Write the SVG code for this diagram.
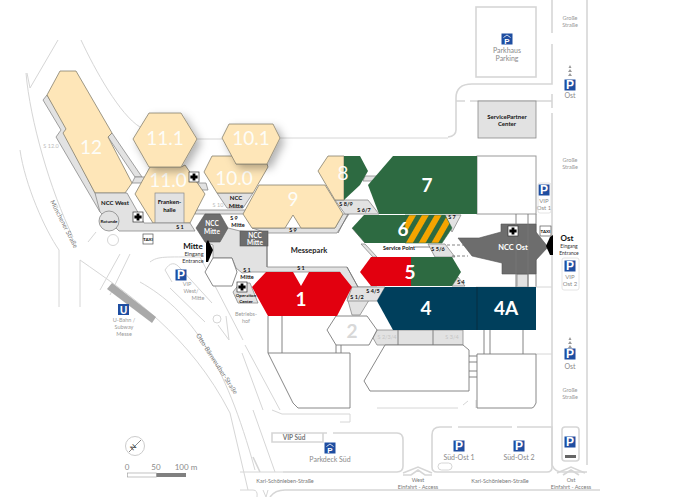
<svg xmlns="http://www.w3.org/2000/svg" width="677" height="497" viewBox="0 0 677 497">
<style>
text{font-family:Lato,"Open Sans","Liberation Sans",sans-serif;text-anchor:middle}
.r{fill:none;stroke:#d6d6d6;stroke-width:1}
.rb{fill:none;stroke:#d6d6d6;stroke-width:1.6}
.o{fill:#fff;stroke:#7a7a7a;stroke-width:.9}
.ln{fill:none;stroke:#777;stroke-width:.9}
.g{fill:#e2e2e2;stroke:#8a8a8a;stroke-width:.8}
.t{fill:#fee6b8;stroke:#85806f;stroke-width:.8}
.gr{fill:#2d6a41}.rd{fill:#e2000f}.bl{fill:#003f5c}.dk{fill:#6d6d6d;stroke:#555;stroke-width:.6}
.hl{fill:#fdfdf8;font-size:19px;font-weight:400}
.h{fill:#fff;font-size:19px;font-weight:700}
.s{fill:#111;font-size:5.500px;font-weight:700}
.s2{fill:#111;font-size:6px;font-weight:700}
.w{fill:#fff;font-size:6.500px;font-weight:700}
.l{fill:#999;font-size:5.500px}
.l2{fill:#8a8a8a;font-size:8px}
.pb{fill:#1f4ea1}.pt{fill:#fff;font-size:12px;font-weight:700;font-family:"Liberation Sans",sans-serif}
</style>
<defs>
<pattern id="hatch" width="11" height="11" patternUnits="userSpaceOnUse" patternTransform="rotate(30)">
<rect width="11" height="11" fill="#2d6a41"/><rect width="6" height="11" fill="#f5a400"/>
</pattern>
<filter id="sh" x="-30%" y="-30%" width="170%" height="170%"><feDropShadow dx="4" dy="4" stdDeviation="4" flood-color="#000" flood-opacity=".3"/></filter>
<g id="pk"><rect x="-5.5" y="-5.5" width="11" height="11" class="pb"/><text y="4.3" class="pt">P</text></g>
<g id="pd"><rect x="-5.5" y="-5.5" width="11" height="11" class="pb"/><path d="M-3.500-1.500L0-4L3.500-1.500" fill="none" stroke="#fff" stroke-width=".8"/><text y="4.800" class="pt" style="font-size:8px">P</text></g>
<g id="plus"><rect x="-5" y="-5" width="10" height="10" fill="#fff" stroke="#333" stroke-width=".7"/><path d="M-1.4-3.6h2.8v2.2h2.2v2.8h-2.2v2.2h-2.8v-2.2h-2.2v-2.8h2.2z" fill="#000"/></g>
</defs>

<g id="connectors">
<path class="r" d="M27 73L30 88L58 40M81 40C95 70 120 115 140 127L197 139"/>
<path class="r" d="M26 73C30 120 50 190 73 237M20 150C25 185 45 230 59 250V307M80 307V260C130 295 190 335 230 413L248 490M140 282C190 310 225 360 255 470"/>
<path class="r" d="M120 254L100 290M130 254L110 295M150 262C158 256 165 257 200 257L243 340M165 270C170 262 175 262 180 268L212 303M165 270L172 282M170 288L205 322M245 345L280 410M242 353L263 410"/>
<circle class="r" cx="113" cy="240" r="5.5"/><circle class="r" cx="217" cy="319" r="4"/>
<path class="r" d="M218 325L229 340L226 316M88 242L96 232"/>
<path class="rb" d="M587 0V465M552 0V33M552 44V84H472Q456 84 456 98V130Q456 136 448 137M552 94V108M552 113V465Q555 472 562 472H587M456 101H465M470 101H552"/>
<path class="r" d="M197 139H222M280 138H448M240 472H283M253 410L275 472M272 410L282 414H350V422H340"/>
<path class="rb" d="M283 472H397Q403 472 403 466V440Q403 433 397 433H333M327 433H323V442H272V433H323M253 457L260 472"/>
<path class="rb" d="M432 467V435Q432 427 440 427H452M458 427H512M517 427H552V467Q552 472 547 472H437Q432 472 432 467"/>
<rect class="rb" x="562" y="427" width="17" height="34" rx="3"/>
<rect class="r" x="438" y="463" width="14" height="7" rx="3.500"/>
<path class="rb" d="M403 473L418 467L432 473M403 475H411L418 470L425 475H432M557 473L571 467L585 473M563 475L571 470L579 475"/>
<path class="rb" d="M270 497Q275 490 285 490H600"/><path class="r" d="M240 490H253Q258 490 257 497M263 490L266 497M268 490L266 497"/>
<rect class="rb" x="476" y="7" width="60" height="70"/>
<path class="r" d="M536 354H552M377 408H458" stroke-width="1.200"/>
<path class="r" d="M463 405L468 401M476 400V408"/>
</g>

<g id="site-base">
<path class="g" d="M47 95L43 100L61 130L56 137L100 212H105L66 137L68 129Z"/>
<path class="g" d="M108 137L112 133L142 177H135Z"/>
<path class="g" d="M135 177H148L143 183H132Z"/>
<path class="g" d="M213 245L205 242L228 228L240 231L267 233V267H347L358 287H377L360 315H352L340 272H252L242 273L236 268L232 258H213Z"/>
<path class="g" d="M195 210H247V214H195Z"/>
<path class="g" d="M185 183L206 183L208 190H190Z"/>
<path class="g" d="M252 228H335L343 214H349L337 233H267Z"/>
<path class="g" d="M365 176H382L378 181H363Z"/>
<path class="g" d="M335 200H368L379 214H345Z"/>
<path class="g" d="M361 244H365L377 257H373Z"/>
<path class="g" d="M428 244H445L455 257H435Z"/>
<path class="g" d="M452 286L458 277L465 286Z"/>
<path class="g" d="M445 215H461L452 232Z"/>
<path class="g" d="M360 287H385L377 301H347L352 287Z"/>
<path class="g" d="M233 292L240 283H250L258 303H238Z"/>
<path class="g" d="M517 274H528V287H517Z"/>
<rect class="g" x="478" y="101" width="58" height="37" stroke-width="1.100"/>
<path class="g" d="M217 193H253L243 208H227Z"/>
<path class="ln" d="M267 246V267M347 267L358 287M348 214L338 233M352 228L365 243"/>
<path class="g" d="M377 330H463V345H377L373 338Z"/>
<path class="ln" d="M398 330V345M433 330V345M268 316V353M282 316V353M336 345V353M341 345V353M484 330V354M490 330V354M523 330V354M469 356H477M469 362H477M469 371H477M469 377H477M536 214V287"/>
<path class="o" d="M268 353H350V408H298L293 403Z"/>
<path class="o" d="M385 345L364 381L370 391H469V350L463 345Z"/>
<path class="o" d="M477 354H536V403Q534 408 532 408H477Z"/>
<path class="o" d="M327 330L336 316H367L377 330L369 345H336Z"/>
<path class="o" d="M205 272L213 258H232L237 272L232 286H213Z"/>
<path class="ln" d="M447 245H468M452 256H468" stroke-dasharray="3 2"/>
<path class="ln" d="M415 247H430" stroke-width=".6"/>
<rect x="477" y="156" width="59" height="58" fill="#fff" stroke="#9a9a9a"/>
<path d="M476 287H552" class="r"/>
</g>

<g id="hall-12"><path class="t" d="M60 71H76L112 133L108 137L132 183L125 193H95L63 133L66 129L47 95Z"/><text x="91" y="154" class="hl">12</text></g>
<g id="hall-11-0"><path class="t" d="M135 194L150 167H181L185 165L205 194L190 223H153Z"/><rect x="155" y="193" width="29" height="30" fill="#e2e2e2" stroke="#888" stroke-width=".7"/><text x="168" y="187" class="hl">11.0</text><text x="169.500" y="204" class="s2">Franken-</text><text x="169.500" y="212" class="s2">halle</text></g>
<g id="hall-10-0"><path class="t" d="M204 172L212 156H236V164H267L268 167L253 193H217Z"/><text x="234" y="185" class="hl">10.0</text></g>
<g id="hall-11-1"><path class="t" filter="url(#sh)" d="M133 139L149 113H181L197 139L181 167H149Z"/><text x="165" y="145" class="hl">11.1</text></g>
<g id="hall-10-1"><path class="t" filter="url(#sh)" d="M222 138L229 124H273L280 138L267 164H236Z"/><text x="251" y="145" class="hl">10.1</text></g>
<g id="hall-9"><path class="t" d="M243 214L259 185H325L343 214L335 228H301L293 215L285 228H252Z"/><text x="293" y="206" class="hl">9</text></g>
<g id="hall-8"><path class="t" d="M318 171L328 156H344V200H335Z"/><path class="gr" d="M344 156H360L368 171L360 185L344 200Z"/><text x="343" y="180" class="hl">8</text></g>
<g id="hall-7"><path class="gr" d="M368 185L393 156H477V214H379Z"/><text x="427" y="192" class="h">7</text></g>
<g id="hall-6"><path class="gr" d="M352 228L364 215H405V243H365Z"/><path fill="url(#hatch)" stroke="#2d6a41" stroke-width=".6" d="M405 215H445L452 228L442 243H405Z"/><text x="403" y="236" class="h">6</text><text x="399" y="250" class="s">Service Point</text><text x="438" y="251" class="s">S 5/6</text></g>
<g id="hall-5"><path class="rd" d="M360 272L371 257H411V286H371Z"/><path class="gr" d="M411 257H452L461 272L452 286H411Z"/><text x="410" y="279" class="h">5</text></g>
<g id="hall-4"><path class="bl" d="M377 301L385 287H477V330H393Z"/><text x="426" y="315" class="h">4</text></g>
<g id="hall-4a"><rect class="bl" x="477" y="287" width="59" height="43"/><path d="M477 287V330" stroke="#0b2431" stroke-width=".6"/><text x="506" y="315" class="h">4A</text></g>
<g id="hall-1"><path class="rd" d="M252 287L266 272H293L301 286L309 272H340L352 287L337 316H268Z"/><text x="301" y="306" class="h">1</text></g>
<g id="hall-2"><text x="352" y="338" class="hl" style="fill:#d8d8d8;font-size:19px;font-weight:700">2</text></g>

<g id="ncc-west"><path class="g" d="M95 193H127L144 223H190L195 231H119L100 212Z"/><text x="115" y="205" class="s2">NCC West</text></g>
<g id="rotunda"><circle cx="109" cy="221" r="10" fill="#e2e2e2" stroke="#888" stroke-width=".8"/><text x="109" y="223" class="s" style="font-size:4.500px">Rotunde</text></g>
<g id="ncc-mitte-1"><text x="236" y="200" class="s2">NCC</text><text x="236" y="207.500" class="s2">Mitte</text></g>
<g id="ncc-mitte-2"><path class="dk" d="M196 228L205 214H220L228 228L220 242H205Z"/><text x="212" y="226" class="w">NCC</text><text x="212" y="234" class="w">Mitte</text></g>
<g id="ncc-mitte-3"><rect class="dk" x="240" y="231" width="28" height="15"/><text x="255" y="237.500" class="w">NCC</text><text x="255" y="245" class="w">Mitte</text></g>
<g id="ncc-ost"><path class="dk" d="M458 238H479L501 232V224H536V232L548 247L536 260V274H502V263L472 256Z"/><path class="ln" d="M516 214V287M528 214V287"/><text x="513" y="250" class="w" style="font-size:7.500px">NCC Ost</text></g>

<g id="first-aid"><use href="#plus" x="194" y="177"/><use href="#plus" x="138" y="217"/><use href="#plus" x="242" y="287"/><use href="#plus" x="513" y="231"/></g>
<g id="taxi"><rect x="143" y="234" width="10" height="10" fill="#fff" stroke="#555" stroke-width=".7"/><text x="148" y="241" class="s" style="font-size:4.500px">TAXI</text><rect x="540" y="226" width="11" height="10" fill="#fff" stroke="#555" stroke-width=".7"/><text x="545.500" y="233" class="s" style="font-size:4.500px">TAXI</text></g>
<g id="entrances"><path d="M206 243L208 240L213 250L208 262L206 262Z" fill="#000"/><path d="M546 246L550 237L553 235V255L550 255Z" fill="#000"/>
<text x="193" y="249" style="font-size:8px;font-weight:700;fill:#111">Mitte</text><text x="194" y="256" class="l" style="fill:#333">Eingang</text><text x="193" y="263" class="l" style="fill:#333">Entrance</text>
<text x="567" y="241" style="font-size:8px;font-weight:700;fill:#111">Ost</text><text x="569" y="248" class="l" style="fill:#333;font-size:5px">Eingang</text><text x="569" y="254.500" class="l" style="fill:#333;font-size:5px">Entrance</text></g>

<g id="labels">
<text x="51" y="148" class="l" style="fill:#bbb">S 12.0</text>
<text x="218" y="207" class="l" style="fill:#bbb">S 10</text>
<text x="180" y="229" class="s">S 1</text>
<text x="234" y="219.500" class="s">S 9</text><text x="238" y="226.500" class="s">Mitte</text>
<text x="293" y="232" class="s">S 9</text><text x="346" y="206" class="s">S 8/9</text><text x="364" y="212" class="s">S 6/7</text>
<text x="452" y="219" class="s">S 7</text><text x="461" y="284" class="s">S 4</text><text x="373" y="293" class="s">S 4/5</text><text x="357" y="298.500" class="s">S 1/2</text>
<text x="301" y="270" class="s">S 1</text><text x="247" y="272" class="s">S 1</text><text x="247" y="279" class="s">Mitte</text>
<text x="246" y="297" class="s" style="font-size:4.500px">Operation</text><text x="246" y="302.500" class="s" style="font-size:4.500px">Center</text>
<text x="309" y="253" style="font-size:7.500px;font-weight:700;fill:#222">Messepark</text>
<text x="387" y="339" class="l" style="fill:#c4c4c4">S 2/3/4</text><text x="452" y="339" class="l" style="fill:#c4c4c4">S 3/4</text>
<text x="246" y="316" class="l">Betriebs-</text><text x="246" y="323" class="l">hof</text>
<text x="507" y="119" class="s2">ServicePartner</text><text x="507" y="126" class="s2">Center</text>
<text x="507" y="53" class="l2" style="font-size:7px">Parkhaus</text><text x="507" y="61" class="l2" style="font-size:7px">Parking</text>
<text x="570" y="20" class="l">Große</text><text x="570" y="27" class="l">Straße</text>
<text x="570" y="162" class="l">Große</text><text x="570" y="169" class="l">Straße</text>
<text x="570" y="392" class="l">Große</text><text x="570" y="399" class="l">Straße</text>
<text x="570" y="98" class="l2" style="font-size:7px">Ost</text><text x="570" y="369" class="l2" style="font-size:7px">Ost</text>
<text x="544" y="203" class="l2" style="font-size:6px">VIP</text><text x="544" y="210" class="l2" style="font-size:6px">Ost 1</text>
<text x="570" y="279" class="l2" style="font-size:6px">VIP</text><text x="570" y="286" class="l2" style="font-size:6px">Ost 2</text>
<text x="187" y="286" class="l">VIP</text><text x="191" y="293" class="l">West/</text><text x="198" y="300" class="l">Mitte</text>
<text x="124" y="322" class="l">U-Bahn /</text><text x="124" y="329" class="l">Subway</text><text x="124" y="336" class="l">Messe</text>
<text transform="translate(62 225) rotate(63)" class="l" style="fill:#777;font-size:6.500px">Münchener Straße</text>
<text transform="translate(215 365) rotate(57)" class="l" style="fill:#777;font-size:6.500px">Otto-Bärnreuther-Straße</text>
<text x="294" y="440" class="s" style="fill:#777;font-size:6.500px">VIP Süd</text>
<text x="330" y="462" class="l2" style="font-size:7px">Parkdeck Süd</text>
<text x="459" y="460" class="l2" style="font-size:7px">Süd-Ost 1</text><text x="519" y="460" class="l2" style="font-size:7px">Süd-Ost 2</text>
<text x="285" y="483" class="l" style="fill:#777">Karl-Schönleben-Straße</text><text x="500" y="483" class="l" style="fill:#777">Karl-Schönleben-Straße</text>
<text x="418" y="482" class="l" style="fill:#777">West</text><text x="418" y="488.500" class="l" style="fill:#777">Einfahrt - Access</text>
<text x="571" y="482" class="l" style="fill:#777">Ost</text><text x="571" y="488.500" class="l" style="fill:#777">Einfahrt - Access</text>
</g>

<g id="parking">
<use href="#pd" x="507" y="39"/><use href="#pk" x="570" y="85"/><use href="#pk" x="544" y="190"/><use href="#pk" x="570" y="266"/><use href="#pk" x="570" y="354"/><use href="#pk" x="181" y="275"/><use href="#pd" x="330" y="448"/><use href="#pk" x="459" y="446"/><use href="#pk" x="519" y="446"/><use href="#pk" x="570" y="442"/>
<path d="M570 65l1.500 3h-3zM570 69l2 3h-4zM570 73l2 3h-4zM570 337l1.500 3h-3zM570 341l2 3h-4zM570 345l2 3h-4z" fill="#999"/>
<rect x="565" y="455" width="11" height="3" fill="#666"/>
<rect x="538" y="183" width="13" height="30" rx="2" fill="none" stroke="#ddd" stroke-width=".8"/><rect x="562" y="258" width="17" height="32" rx="2" fill="none" stroke="#ddd" stroke-width=".8"/>
</g>
<g id="ubahn"><path d="M107 289L112 283L156 317L152 323Z" fill="#a9a9a9"/><rect x="118" y="304" width="11" height="11" class="pb"/><text x="123.500" y="313.500" class="pt" style="font-size:10px">U</text></g>
<g id="scale"><circle cx="135" cy="446" r="9.500" fill="#fff" stroke="#ccc"/><path d="M129 452L141 440" stroke="#888" stroke-width="1"/><text transform="translate(135 449) rotate(-45)" style="font-size:7px;font-weight:700;fill:#555">N</text>
<rect x="127.500" y="473" width="29" height="4" fill="#fff" stroke="#999" stroke-width=".6"/><rect x="156.500" y="473" width="29.500" height="4" fill="#808080"/>
<text x="127" y="470" class="l2">0</text><text x="156" y="470" class="l2">50</text><text x="186" y="470" class="l2">100 m</text></g>
</svg>
